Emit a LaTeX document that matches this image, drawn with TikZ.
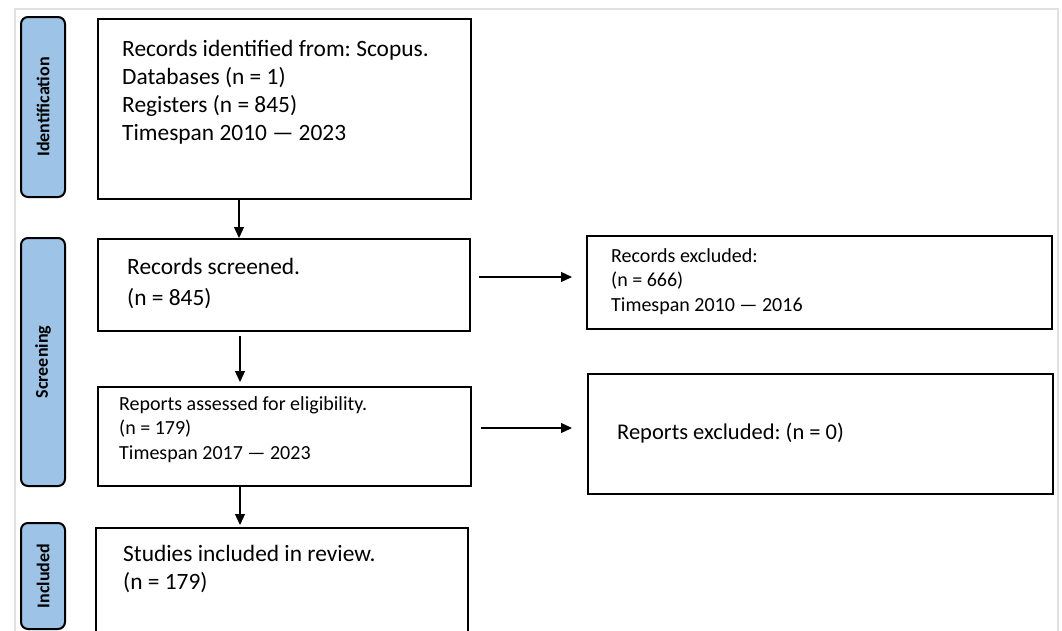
\documentclass[tikz,border=0pt]{standalone}
\usepackage{fontspec}
\setmainfont{Carlito}
\usepackage{tikz}
\usetikzlibrary{positioning}
\usetikzlibrary{arrows.meta}
\usepackage{xcolor}
\definecolor{barblue}{RGB}{157,195,230}
\definecolor{framegray}{RGB}{225,225,225}
\frenchspacing

\begin{document}
\begin{tikzpicture}[
    x=1pt, y=-1pt,
    box/.style={rectangle, draw, line width=2.2pt, anchor=north west},
    bar/.style={rectangle, draw, rounded corners=7pt, line width=2pt, fill=barblue, minimum width=44pt, rotate=90, font=\fontsize{18}{21}\selectfont\bfseries},
    big/.style={inner sep=0pt, align=left, font=\fontsize{23.4}{28}\selectfont},
    small/.style={inner sep=0pt, align=left, font=\fontsize{20}{24.8}\selectfont},
    arrow/.style={-{Triangle[length=11pt,width=10pt]}, line width=1.2pt}
]
    \useasboundingbox (0,0) rectangle (1062,630);
    \clip (0,0) rectangle (1062,630);

    % Frame
    \draw[framegray, line width=1.5pt] (15,660) -- (15,9) -- (1058,9) -- (1058,660);

    % Phases
    \node[bar, minimum width=180pt, minimum height=44pt] (idbar) at (43,107) {Identification};
    \node[bar, minimum width=248pt, minimum height=44pt] (scrbar) at (43,362) {Screening};
    \node[bar, minimum width=106pt, minimum height=44pt] (incbar) at (43,576) {Included};

    % Main boxes
    \node[box, minimum width=373pt, minimum height=180pt] (ident) at (97,18) {};
    \node[box, minimum width=372pt, minimum height=92pt] (screen) at (97,238) {};
    \node[box, minimum width=373pt, minimum height=99pt] (assess) at (97,386) {};
    \node[box, minimum width=372pt, minimum height=130pt] (incl) at (95,527) {};

    % Excluded boxes
    \node[box, minimum width=465pt, minimum height=93pt] (recexcl) at (586,235) {};
    \node[box, minimum width=465pt, minimum height=120pt] (repexcl) at (587,373) {};

    % Texts
    \node[big, below right=22pt and 25pt of ident.north west] (identtxt)
        {Records identified from: Scopus.\\Databases (n = 1)\\Registers (n = 845)\\Timespan 2010 --- 2023};
    \node[big, below right=20pt and 30pt of screen.north west, font=\fontsize{23.4}{31}\selectfont] (screentxt)
        {Records screened.\\(n = 845)};
    \node[small, below right=10pt and 22pt of assess.north west] (assesstxt)
        {Reports assessed for eligibility.\\(n = 179)\\Timespan 2017 --- 2023};
    \node[big, below right=18pt and 28pt of incl.north west] (incltxt)
        {Studies included in review.\\(n = 179)};
    \node[small, below right=13pt and 25pt of recexcl.north west] (recexcltxt)
        {Records excluded:\\(n = 666)\\Timespan 2010 --- 2016};
    \node[big, below right=50pt and 30pt of repexcl.north west, font=\fontsize{22.5}{27}\selectfont] (repexcltxt)
        {Reports excluded: (n = 0)};

    % Flow
    \draw[arrow] (ident.south -| 239,0) -- (screen.north -| 239,0);
    \draw[arrow, shorten <=4pt, shorten >=4pt] (screen.south -| 240,0) -- (assess.north -| 240,0);
    \draw[arrow, shorten >=2pt] (assess.south -| 240,0) -- (incl.north -| 240,0);
    \draw[arrow, shorten <=8pt, shorten >=14pt] (screen.east |- 0,277) -- (recexcl.west |- 0,277);
    \draw[arrow, shorten <=9pt, shorten >=15pt] (assess.east |- 0,428) -- (repexcl.west |- 0,428);
\end{tikzpicture}
\end{document}
